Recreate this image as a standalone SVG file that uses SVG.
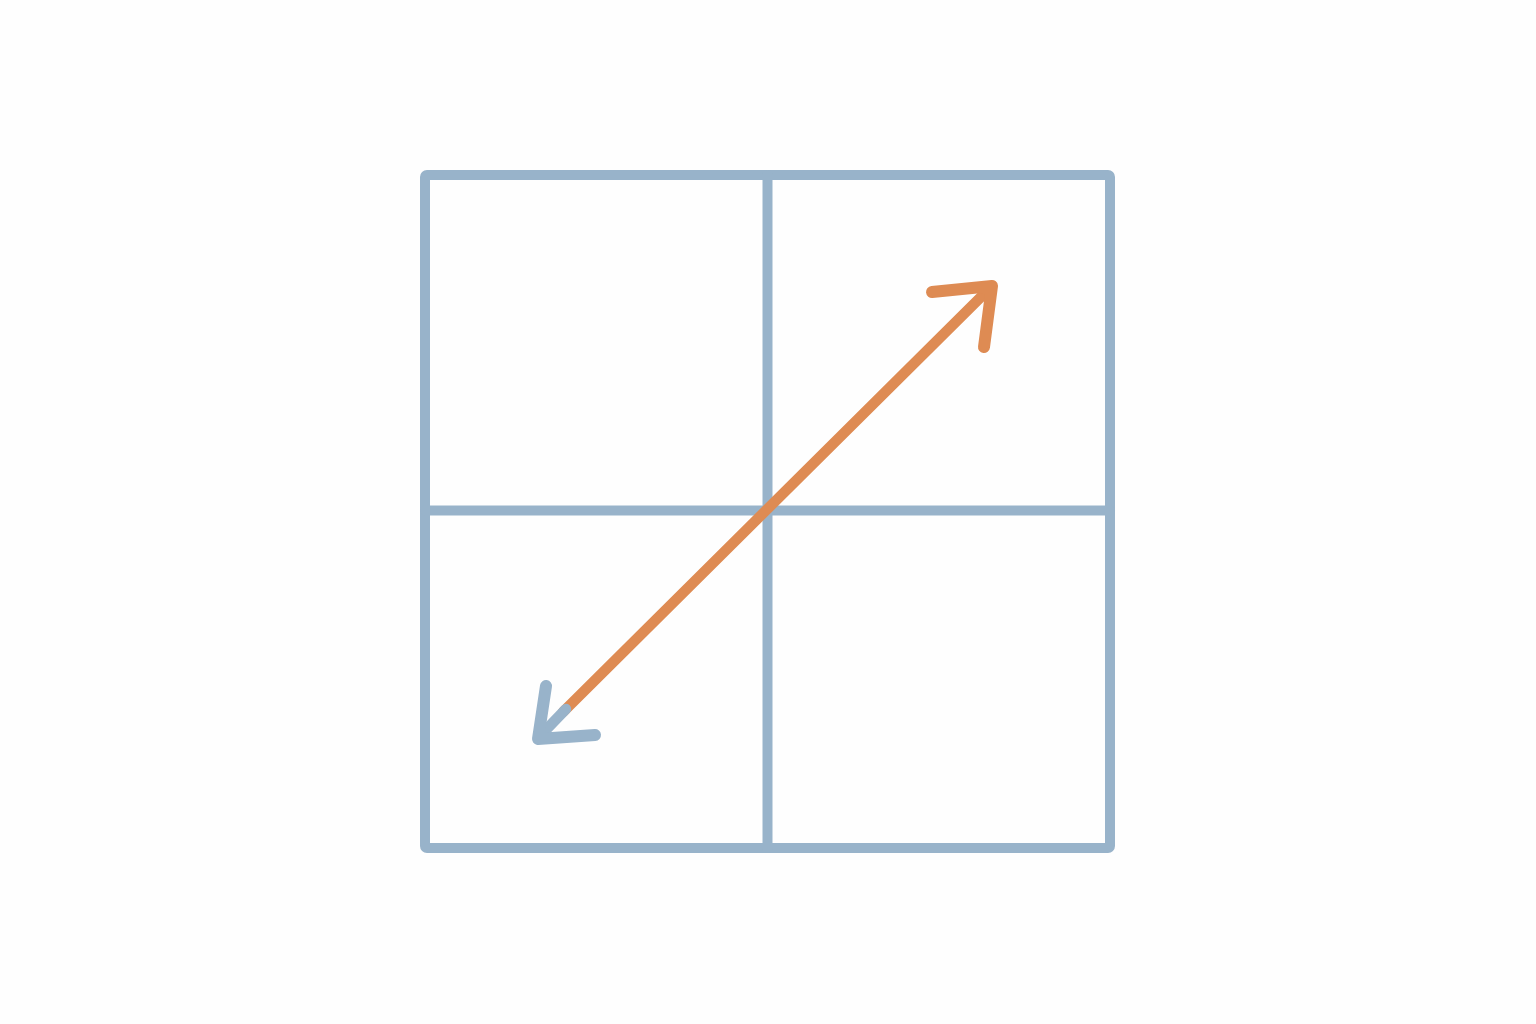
<svg xmlns="http://www.w3.org/2000/svg" width="1536" height="1024" viewBox="0 0 1536 1024">
<style>
.grid{fill:none;stroke:#98B3CA;stroke-width:10;stroke-linejoin:round;stroke-linecap:round}
.orange{fill:none;stroke:#DE8B53;stroke-width:10.5;stroke-linecap:round;stroke-linejoin:round}
.orangehead{fill:none;stroke:#DE8B53;stroke-width:12;stroke-linecap:round;stroke-linejoin:round}
.blue{fill:none;stroke:#98B3CA;stroke-width:10.5;stroke-linecap:round;stroke-linejoin:round}
.bluehead{fill:none;stroke:#98B3CA;stroke-width:12;stroke-linecap:round;stroke-linejoin:round}
</style>
<rect width="1536" height="1024" fill="#FEFEFE"/>
<g id="grid">
<rect class="grid" x="425" y="175" width="685" height="673" rx="2"/>
<line class="grid" x1="767.5" y1="175" x2="767.5" y2="848"/>
<line class="grid" x1="425" y1="510.5" x2="1110" y2="510.5"/>
</g>
<g id="connectors">
<line class="orange" x1="563" y1="712" x2="990" y2="288"/>
<polyline class="orangehead" points="932,292 992,286 984,347"/>
<line class="blue" x1="566" y1="709" x2="540" y2="736"/>
<polyline class="bluehead" points="546,686 538,739 595,735"/>
</g>
</svg>
